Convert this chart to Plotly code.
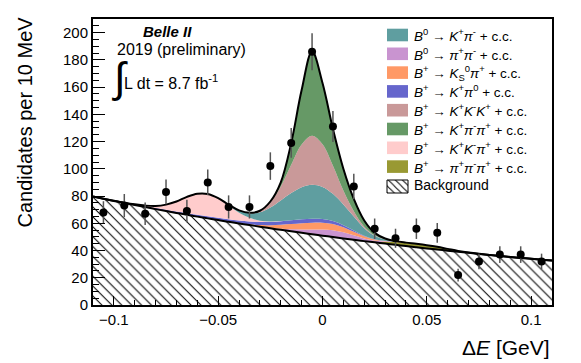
import numpy as np
import plotly.graph_objects as go

# ---------------- data ----------------
bin_centers = [-0.105, -0.095, -0.085, -0.075, -0.065, -0.055, -0.045, -0.035, -0.025, -0.015, -0.005,
               0.005, 0.015, 0.025, 0.035, 0.045, 0.055, 0.065, 0.075, 0.085, 0.095, 0.105]
counts = [68, 73, 67, 83, 69, 90, 72, 72, 102, 119, 186, 131, 87, 56, 49, 56, 53, 22, 32, 37, 37, 32]
count_errors = [8.2, 8.5, 8.2, 9.1, 8.3, 9.5, 8.5, 8.5, 10.1, 10.9, 13.6, 11.4, 9.3, 7.5, 7.0, 7.5, 7.3, 4.7, 5.7, 6.1, 6.1, 5.7]

curve_x = [-0.110, -0.105, -0.100, -0.095, -0.090, -0.085, -0.080, -0.075, -0.070, -0.065, -0.060,
           -0.055, -0.050, -0.045, -0.040, -0.035, -0.030, -0.025, -0.020, -0.015, -0.010, -0.005,
           0.000, 0.005, 0.010, 0.015, 0.020, 0.025, 0.030, 0.035, 0.040, 0.045, 0.050, 0.055,
           0.060, 0.065, 0.070, 0.075, 0.080, 0.085, 0.090, 0.095, 0.100, 0.105, 0.110]

background = [79.6, 78.0, 76.4, 74.9, 73.4, 71.9, 70.4, 69.0, 67.6, 66.3, 64.9, 63.6, 62.4, 61.1, 59.9,
              58.7, 57.5, 56.3, 55.2, 54.1, 53.0, 51.9, 50.9, 49.9, 48.9, 47.9, 46.9, 46.0, 45.1, 44.2,
              43.3, 42.4, 41.5, 40.7, 39.9, 39.1, 38.3, 37.5, 36.8, 36.0, 35.3, 34.6, 33.9, 33.2, 32.6]
pipipi = [0]*27 + [0.3, 1.2, 2.0, 2.4, 2.5, 2.4, 2.0, 1.3, 0.6, 0.2, 0.05] + [0]*7
pipi = [0]*17 + [0.3, 0.8, 1.5, 2.5, 3.5, 4.5, 5.0, 4.5, 3.3, 2.0, 1.0, 0.4, 0.1] + [0]*15
kspi = [0]*13 + [0.1, 0.3, 0.6, 1.2, 2.0, 2.9, 3.8, 4.5, 5.0, 5.0, 4.5, 3.6, 2.5, 1.5, 0.8, 0.3, 0.1] + [0]*15
kpi0 = [0, 0] + [0.1, 0.2, 0.4, 0.6, 0.8, 1.0, 1.1, 1.3, 1.4, 1.5, 1.6, 1.8, 1.9, 2.0, 2.2, 2.4, 2.6,
                 2.8, 2.9, 2.9, 2.7, 2.2, 1.6, 1.0, 0.5, 0.2, 0.1] + [0]*16
kkpi = [0]*4 + [0.1, 0.5, 1.5, 3.7, 7.3, 11.8, 15.4, 16.4, 14.2, 10.0, 5.7, 2.7, 1.0, 0.3, 0.1] + [0]*26
kpi = [0]*11 + [0.05, 0.3, 0.7, 1.6, 3.4, 6.2, 10.3, 15.2, 20.0, 23.6, 25.0, 23.6, 20.0, 15.2, 10.3,
                5.5, 2.6, 1.0, 0.3, 0.1] + [0]*14
kkk = [0]*14 + [0.04, 0.25, 1.1, 3.9, 10.3, 20.7, 31.3, 36.0, 31.3, 20.7, 10.3, 3.9, 1.1, 0.25, 0.04] + [0]*16
kpipi = [0]*17 + [0.5, 3.0, 16, 40, 62, 45, 27, 16, 9, 4.5, 1.8, 0.7, 0.2] + [0]*15

x_ticks = [-0.1, -0.05, 0, 0.05, 0.1]
x_ticktext = ["\u22120.1", "\u22120.05", "0", "0.05", "0.1"]

# stacking order (bottom -> top)
stack = [("pipipi", pipipi, "#999933"), ("pipi", pipi, "#c994d0"), ("kspi", kspi, "#ff9966"),
         ("kpi0", kpi0, "#6666cc"), ("kkpi", kkpi, "#ffcccc"), ("kpi", kpi, "#5f9ea0"),
         ("kkk", kkk, "#c99999"), ("kpipi", kpipi, "#669966")]

legend_labels = [
    ("<i>B</i><sup>0</sup> \u2192 <i>K</i><sup>+</sup><i>\u03c0</i><sup>-</sup> + c.c.", "#5f9ea0"),
    ("<i>B</i><sup>0</sup> \u2192 <i>\u03c0</i><sup>+</sup><i>\u03c0</i><sup>-</sup> + c.c.", "#c994d0"),
    ("<i>B</i><sup>+</sup> \u2192 <i>K</i><sub>S</sub><sup>0</sup><i>\u03c0</i><sup>+</sup> + c.c.", "#ff9966"),
    ("<i>B</i><sup>+</sup> \u2192 <i>K</i><sup>+</sup><i>\u03c0</i><sup>0</sup> + c.c.", "#6666cc"),
    ("<i>B</i><sup>+</sup> \u2192 <i>K</i><sup>+</sup><i>K</i><sup>-</sup><i>K</i><sup>+</sup> + c.c.", "#c99999"),
    ("<i>B</i><sup>+</sup> \u2192 <i>K</i><sup>+</sup><i>\u03c0</i><sup>-</sup><i>\u03c0</i><sup>+</sup> + c.c.", "#669966"),
    ("<i>B</i><sup>+</sup> \u2192 <i>K</i><sup>+</sup><i>K</i><sup>-</sup><i>\u03c0</i><sup>+</sup> + c.c.", "#ffcccc"),
    ("<i>B</i><sup>+</sup> \u2192 <i>\u03c0</i><sup>+</sup><i>\u03c0</i><sup>-</sup><i>\u03c0</i><sup>+</sup> + c.c.", "#999933"),
]

# ---------------- geometry ----------------
W_FIG, H_FIG = 581, 363
L, R, T, B = 93, 552, 19, 305
W, H = R - L, B - T


def px(xp):
    return (xp - L) / W


def py(yp):
    return (B - yp) / H


FONT = "Liberation Sans, Arial, Helvetica, sans-serif"

fig = go.Figure()

# background (hatched)
fig.add_trace(go.Scatter(
    x=curve_x, y=background, mode="lines", line=dict(width=0, shape="spline"),
    fill="tozeroy", fillcolor="white",
    fillpattern=dict(shape="\\", fgcolor="black", bgcolor="white", size=7, solidity=0.15, fillmode="replace"),
    hoverinfo="skip", showlegend=False))

cum = np.array(background, dtype=float)
for name, vals, col in stack:
    cum = cum + np.array(vals, dtype=float)
    fig.add_trace(go.Scatter(
        x=curve_x, y=cum.copy(), mode="lines", line=dict(width=0, shape="spline"),
        fill="tonexty", fillcolor=col, hoverinfo="skip", showlegend=False, name=name))

# background line
fig.add_trace(go.Scatter(x=curve_x, y=background, mode="lines",
                         line=dict(color="black", width=2, shape="spline"),
                         hoverinfo="skip", showlegend=False))
# total line
fig.add_trace(go.Scatter(x=curve_x, y=cum, mode="lines",
                         line=dict(color="black", width=2, shape="spline"),
                         hoverinfo="skip", showlegend=False))

# data
fig.add_trace(go.Scatter(
    x=bin_centers, y=counts, mode="markers",
    marker=dict(color="black", size=8),
    error_y=dict(type="data", array=count_errors, visible=True, color="#555555", thickness=1.5, width=0),
    showlegend=False))

# legend swatch for background (hatched), on an overlay axis in [0,1]
sx0, sx1, sy0, sy1 = px(387), px(408), py(193), py(180)
fig.add_trace(go.Scatter(
    x=[sx0, sx1, sx1, sx0, sx0], y=[sy0, sy0, sy1, sy1, sy0], mode="lines",
    line=dict(color="black", width=1), fill="toself", fillcolor="white",
    fillpattern=dict(shape="\\", fgcolor="black", bgcolor="white", size=5, solidity=0.2, fillmode="replace"),
    xaxis="x2", yaxis="y2", hoverinfo="skip", showlegend=False))

shapes = []
annotations = []
ENTRY0, STEP = 35, 18.8
for i, (lab, col) in enumerate(legend_labels):
    yc = ENTRY0 + STEP * i
    shapes.append(dict(type="rect", xref="paper", yref="paper",
                       x0=px(387), x1=px(408), y0=py(yc + 6.3), y1=py(yc - 6.3),
                       fillcolor=col, line=dict(width=0)))
    annotations.append(dict(text=lab, xref="paper", yref="paper", x=px(412), y=py(yc),
                            xanchor="left", yanchor="middle", showarrow=False,
                            font=dict(family=FONT, size=13.5, color="black")))
annotations.append(dict(text="Background", xref="paper", yref="paper", x=px(412), y=py(ENTRY0 + STEP * 8),
                        xanchor="left", yanchor="middle", showarrow=False,
                        font=dict(family=FONT, size=14, color="black")))

# texts
annotations += [
    dict(text="<b><i>Belle II</i></b>", xref="paper", yref="paper", x=px(167.5), y=py(32),
         xanchor="center", yanchor="middle", showarrow=False, font=dict(family=FONT, size=15, color="black")),
    dict(text="2019 (preliminary)", xref="paper", yref="paper", x=px(181.7), y=py(49),
         xanchor="center", yanchor="middle", showarrow=False, font=dict(family=FONT, size=16, color="black")),
    dict(text="\u222b", xref="paper", yref="paper", x=px(119.5), y=py(78),
         xanchor="center", yanchor="middle", showarrow=False, font=dict(family=FONT, size=42, color="black")),
    dict(text="L dt = 8.7 fb<sup>-1</sup>", xref="paper", yref="paper", x=px(121.5), y=py(82),
         xanchor="left", yanchor="middle", showarrow=False, font=dict(family=FONT, size=16, color="black")),
    dict(text="Candidates per 10 MeV", xref="paper", yref="paper", x=px(24), y=py(15),
         xanchor="center", yanchor="top", textangle=-90, showarrow=False,
         font=dict(family=FONT, size=20, color="black")),
    dict(text="\u0394<i>E</i> [GeV]", xref="paper", yref="paper", x=1.0, y=py(347),
         xanchor="right", yanchor="middle", showarrow=False, font=dict(family=FONT, size=21, color="black")),
]

fig.update_layout(
    width=W_FIG, height=H_FIG,
    margin=dict(l=L, r=W_FIG - R, t=T, b=H_FIG - B, pad=0),
    paper_bgcolor="white", plot_bgcolor="white",
    showlegend=False,
    shapes=shapes, annotations=annotations,
    xaxis=dict(range=[-0.11, 0.11], tickvals=x_ticks, ticktext=x_ticktext,
               ticks="inside", ticklen=9, tickwidth=1, tickcolor="black",
               minor=dict(ticks="inside", dtick=0.01, ticklen=5, tickcolor="black"),
               showline=True, linecolor="black", linewidth=2, mirror=True,
               showgrid=False, zeroline=False,
               tickfont=dict(family=FONT, size=15, color="black")),
    yaxis=dict(range=[0, 210], dtick=20, tick0=0,
               ticks="inside", ticklen=12, tickwidth=1, tickcolor="black",
               minor=dict(ticks="inside", dtick=5, ticklen=6, tickcolor="black"),
               showline=True, linecolor="black", linewidth=2, mirror=True,
               showgrid=False, zeroline=False,
               tickfont=dict(family=FONT, size=15, color="black")),
    xaxis2=dict(overlaying="x", range=[0, 1], visible=False),
    yaxis2=dict(overlaying="y", range=[0, 1], visible=False),
)

fig.write_html("out.html", config={"displayModeBar": False},
               post_script="document.body.style.margin='0';document.body.style.overflow='hidden';")
